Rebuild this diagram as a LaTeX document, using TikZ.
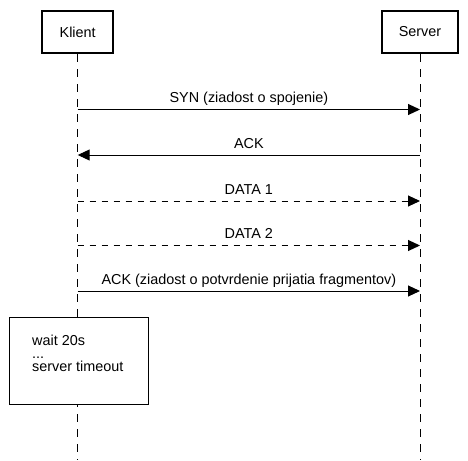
\documentclass[tikz,border=0pt]{standalone}
\usepackage{fontspec}
\setmainfont{Liberation Sans}
\usetikzlibrary{arrows.meta}
\begin{document}
\begin{tikzpicture}[x=1pt,y=-1pt,
  actor/.style={draw, line width=2pt, inner sep=0pt, font=\fontsize{14.4}{17}\selectfont, fill=white},
  lifeline/.style={line width=1pt, dash pattern=on 8pt off 7pt},
  msg/.style={line width=1pt, -{Triangle[length=12pt,width=11pt]}},
  msgdash/.style={msg, dash pattern=on 6pt off 6pt},
  lbl/.style={font=\fontsize{14.4}{17}\selectfont, anchor=base, yshift=7pt, inner sep=0pt},
  notebox/.style={draw, line width=1pt, fill=white, inner sep=0pt},
  notetxt/.style={font=\fontsize{14.4}{13}\selectfont, align=left, inner sep=0pt, anchor=base west}
]
\useasboundingbox (0,0) rectangle (468,460);
% actors
\node[actor, minimum width=71pt, minimum height=42pt] (klient) at (77.7,32) {Klient};
\node[actor, minimum width=76.6pt, minimum height=42pt] (server) at (420,32) {Server};
\coordinate (kend) at (77.7,460);
\coordinate (send) at (420,460);
\draw[lifeline] (klient.south) -- (kend);
\draw[lifeline] (server.south) -- (send);
% message anchor points
\coordinate (k1) at (77.7,109.5); \coordinate (s1) at (420,109.5);
\coordinate (k2) at (77.7,155);   \coordinate (s2) at (420,155);
\coordinate (k3) at (77.7,201);   \coordinate (s3) at (420,201);
\coordinate (k4) at (77.7,245.5); \coordinate (s4) at (420,245.5);
\coordinate (k5) at (77.7,291);   \coordinate (s5) at (420,291);
\draw[msg] (k1) -- node[lbl] {SYN (ziadost o spojenie)} (s1);
\draw[msg] (s2) -- node[lbl] {ACK} (k2);
\draw[msgdash] (k3) -- node[lbl] {DATA 1} (s3);
\draw[msgdash] (k4) -- node[lbl] {DATA 2} (s4);
\draw[msg] (k5) -- node[lbl] {ACK (ziadost o potvrdenie prijatia fragmentov)} (s5);
% note
\node[notebox, anchor=north west, minimum width=139pt, minimum height=87pt] (note) at (8.5,316.5) {};
\node[notetxt] (notetext) at (32,371.7) {wait 20s\\...\\server timeout};
\end{tikzpicture}
\end{document}
